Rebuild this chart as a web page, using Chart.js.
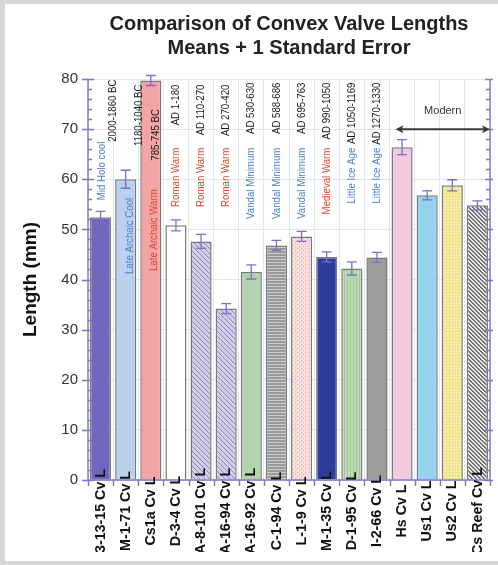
<!DOCTYPE html>
<html><head><meta charset="utf-8">
<script src="https://cdn.jsdelivr.net/npm/chart.js@4/dist/chart.umd.min.js"></script>
<style>
html,body{margin:0;padding:0;background:#d6d6d6;width:498px;height:565px;overflow:hidden}
#frame{position:absolute;left:5px;top:4px;width:493px;height:557px;background:#fff}
#wrap{position:absolute;left:0;top:0;width:493px;height:548px}
</style></head><body>
<div id="frame"><div id="wrap"><canvas id="c"></canvas></div></div>
<script>
// ---- data ----
const categories = ["3-13-15 Cv L","M-1-71 Cv L","Cs1a Cv L","D-3-4 Cv L","A-8-101 Cv L","A-16-94 Cv L","A-16-92 Cv L","C-1-94 Cv L","L-1-9 Cv L","M-1-35 Cv L","D-1-95 Cv L","I-2-66 Cv L","Hs Cv L","Us1 Cv L","Us2 Cv L","Cs Reef Cv L"];
const meanLengths = [52.4, 60.0, 79.7, 50.8, 47.6, 34.2, 41.5, 46.8, 48.6, 44.5, 42.2, 44.4, 66.4, 56.8, 58.8, 54.8];
const standardErrors = [1.2, 1.8, 1.0, 1.1, 1.4, 1.0, 1.4, 1.0, 1.0, 1.0, 1.3, 1.0, 1.5, 0.9, 1.1, 0.9];
const periodDates = ["2000-1860 BC","1180-1040 BC","785-745 BC","AD 1-180","AD 110-270","AD 270-420","AD 530-630","AD 588-686","AD 695-763","AD 990-1050","AD 1050-1169","AD 1270-1330"];
const periodNames = ["Mid Holo cool","Late Archaic Cool","Late Archaic Warm","Roman Warm","Roman Warm","Roman Warm","Vandal Minimum","Vandal Minimum","Vandal Minimum","Medieval Warm","Little Ice Age","Little Ice Age"];
const modernLabel = "Modern";
const yTicks = [0, 10, 20, 30, 40, 50, 60, 70, 80];
const titleLines = ["Comparison of Convex Valve Lengths", "Means + 1 Standard Error"];
const yAxisTitle = "Length (mm)";

// ---- styles ----
const AXIS = '#7d76c2';
const GRID = '#dde9f2';
const FONT = "'Liberation Sans', Arial, sans-serif";
const nameColors = {"Mid Holo cool":"#4d7fcf","Late Archaic Cool":"#4d7fcf","Late Archaic Warm":"#e0452e","Roman Warm":"#e0452e","Vandal Minimum":"#4d7fcf","Medieval Warm":"#e0452e","Little Ice Age":"#4d7fcf"};
// per-annotation layout: [x offset of date (px), top value of date, x offset of name, top value of name]
const annLayout = [[12,79.9,1,67.5],[13,78.9,4,56.3],[5,74.0,3,58.0],[0,78.9,0,66.3],[0,78.9,0,66.3],[0,78.9,0,66.3],[0,79.3,0,66.3],[0,79.3,0,66.3],[0,79.3,0,66.3],[0,79.3,0,66.3],[0,79.3,0,66.3],[0,79.3,0,66.3]];

function pat(w,h,draw){const c=document.createElement('canvas');c.width=w;c.height=h;const g=c.getContext('2d');draw(g,w,h);return g.createPattern(c,'repeat');}
const hatch = pat(5,5,(g)=>{g.fillStyle='#d2cee8';g.fillRect(0,0,5,5);g.strokeStyle='#8d87bf';g.lineWidth=1;g.beginPath();g.moveTo(-1,-1);g.lineTo(6,6);g.moveTo(-1,4);g.lineTo(1,6);g.moveTo(4,-1);g.lineTo(6,1);g.stroke();});
const hStripe = pat(1,3,(g)=>{g.fillStyle='#9a9a9a';g.fillRect(0,0,1,3);g.fillStyle='#cdcdcd';g.fillRect(0,0,1,1);});
const vStripe = pat(3,1,(g)=>{g.fillStyle='#bddcb5';g.fillRect(0,0,3,1);g.fillStyle='#a3c89b';g.fillRect(0,0,1,1);});
const pinkDots = pat(4,4,(g)=>{g.fillStyle='#fadede';g.fillRect(0,0,4,4);g.fillStyle='#eaa9a9';g.fillRect(0,0,1,1);g.fillRect(2,2,1,1);});
const yellowGrid = pat(3,3,(g)=>{g.fillStyle='#f9f1aa';g.fillRect(0,0,3,3);g.fillStyle='#ece08e';g.fillRect(0,0,3,1);g.fillRect(0,0,1,3);});
const checker = pat(4,4,(g)=>{g.fillStyle='#ececec';g.fillRect(0,0,4,4);g.fillStyle='#6e6e6e';g.fillRect(0,0,2,1);g.fillRect(1,1,2,1);g.fillRect(2,2,2,1);g.fillRect(3,3,1,1);g.fillRect(0,3,1,1);});
const barFills = ['#6f67bd','#b9d1ed','#f3a5a5','#ffffff',hatch,hatch,'#b3d2ad',hStripe,pinkDots,'#2d3c9e',vStripe,'#9c9c9c','#f2cadf','#93d3ee',yellowGrid,checker];

function vText(ctx, text, px, py, sx){
  ctx.save(); ctx.translate(px, py); ctx.rotate(-Math.PI/2); ctx.scale(sx, 1);
  ctx.fillText(text, 0, 0); ctx.restore();
}

const decorations = {
  id:'decorations',
  afterDatasetsDraw(chart){
    const {ctx, chartArea:a, scales:{x,y}} = chart;
    ctx.save();
    ctx.strokeStyle = AXIS; ctx.lineWidth = 1.4;
    ctx.beginPath();
    ctx.moveTo(a.left, a.top); ctx.lineTo(a.left, a.bottom);
    ctx.moveTo(a.right, a.top); ctx.lineTo(a.right, a.bottom);
    ctx.moveTo(a.left, a.bottom); ctx.lineTo(a.right, a.bottom);
    for (let v = 0; v <= 80; v += 2) {
      const py = Math.round(y.getPixelForValue(v)) + 0.5;
      if (v % 10 === 0) {
        ctx.moveTo(a.left - 6, py); ctx.lineTo(a.left + 6, py);
        ctx.moveTo(a.right - 5, py); ctx.lineTo(a.right + 3, py);
      } else {
        ctx.moveTo(a.left, py); ctx.lineTo(a.left + 4, py);
        ctx.moveTo(a.right - 4, py); ctx.lineTo(a.right, py);
      }
    }
    const half = (x.getPixelForValue(1) - x.getPixelForValue(0)) / 2;
    for (let i = 0; i <= categories.length; i++) {
      const px = Math.round(x.getPixelForValue(i) - half) + 0.5;
      ctx.moveTo(px, a.bottom); ctx.lineTo(px, a.bottom + 6);
    }
    ctx.stroke();

    // error bars
    ctx.strokeStyle = '#7a72c4'; ctx.lineWidth = 1.3;
    ctx.beginPath();
    meanLengths.forEach((m, i) => {
      const px = x.getPixelForValue(i);
      const y1 = y.getPixelForValue(m + standardErrors[i]);
      const y0 = y.getPixelForValue(m - standardErrors[i]);
      ctx.moveTo(px, y0); ctx.lineTo(px, y1);
      ctx.moveTo(px - 5, y1); ctx.lineTo(px + 5, y1);
      ctx.moveTo(px - 5, y0); ctx.lineTo(px + 5, y0);
    });
    ctx.stroke();

    // category labels, rotated, centred below the axis
    ctx.font = "bold 15px " + FONT; ctx.fillStyle = '#111';
    ctx.textAlign = 'center'; ctx.textBaseline = 'middle';
    categories.forEach((c, i) => vText(ctx, c, x.getPixelForValue(i), a.bottom + 31, 0.95));

    // period annotations
    ctx.font = "11.5px " + FONT;
    ctx.textAlign = 'right'; ctx.textBaseline = 'middle';
    periodDates.forEach((d, i) => {
      const L = annLayout[i];
      const px = x.getPixelForValue(i);
      ctx.fillStyle = '#1a1a1a';
      vText(ctx, d, px + L[0], y.getPixelForValue(L[1]), 0.84);
      ctx.fillStyle = nameColors[periodNames[i]];
      vText(ctx, periodNames[i], px + L[2], y.getPixelForValue(L[3]), 0.84);
    });

    // modern arrow
    const first = periodDates.length;
    const xs = x.getPixelForValue(first) - half + 6;
    const xe = a.right;
    const ya = y.getPixelForValue(70);
    ctx.strokeStyle = '#3a3a3a'; ctx.fillStyle = '#3a3a3a'; ctx.lineWidth = 2;
    ctx.beginPath(); ctx.moveTo(xs + 4, ya); ctx.lineTo(xe - 4, ya); ctx.stroke();
    ctx.beginPath(); ctx.moveTo(xs, ya); ctx.lineTo(xs + 8, ya - 4); ctx.lineTo(xs + 6, ya); ctx.lineTo(xs + 8, ya + 4); ctx.closePath(); ctx.fill();
    ctx.beginPath(); ctx.moveTo(xe, ya); ctx.lineTo(xe - 8, ya - 4); ctx.lineTo(xe - 6, ya); ctx.lineTo(xe - 8, ya + 4); ctx.closePath(); ctx.fill();
    ctx.font = "11px " + FONT; ctx.textAlign = 'center'; ctx.fillStyle = '#333';
    ctx.fillText(modernLabel, (xs + xe) / 2, y.getPixelForValue(73.6));
    ctx.restore();
  }
};

new Chart(document.getElementById('c'), {
  type: 'bar',
  data: {
    labels: categories,
    datasets: [{
      data: meanLengths,
      backgroundColor: barFills,
      borderColor: '#7a7a7a',
      borderWidth: 1.5,
      barPercentage: 0.84,
      categoryPercentage: 1.0
    }]
  },
  options: {
    responsive: true,
    maintainAspectRatio: false,
    animation: false,
    layout: { padding: { left: 0, right: 8, top: 0, bottom: 0 } },
    plugins: {
      legend: { display: false },
      tooltip: { enabled: false },
      title: {
        display: true, text: titleLines, fullSize: false,
        font: { family: FONT, size: 20, weight: 'bold', lineHeight: 1.2 },
        color: '#222', padding: { top: 8, bottom: 19 }
      }
    },
    scales: {
      x: {
        type: 'category',
        grid: { color: GRID, offset: true, drawTicks: false },
        border: { display: false },
        ticks: { display: false },
        afterFit: s => { s.height = 72; }
      },
      y: {
        min: 0, max: 80,
        afterBuildTicks: s => { s.ticks = yTicks.map(v => ({ value: v })); },
        grid: { color: GRID, drawTicks: false },
        border: { display: false },
        ticks: { padding: 10, color: '#333', font: { family: FONT, size: 15 } },
        title: { display: true, text: yAxisTitle, color: '#111', font: { family: FONT, size: 19, weight: 'bold', lineHeight: 1.2 }, padding: { top: 14, bottom: 0 } },
        afterFit: s => { s.width = 83; }
      }
    }
  },
  plugins: [decorations]
});
</script>
</body></html>
